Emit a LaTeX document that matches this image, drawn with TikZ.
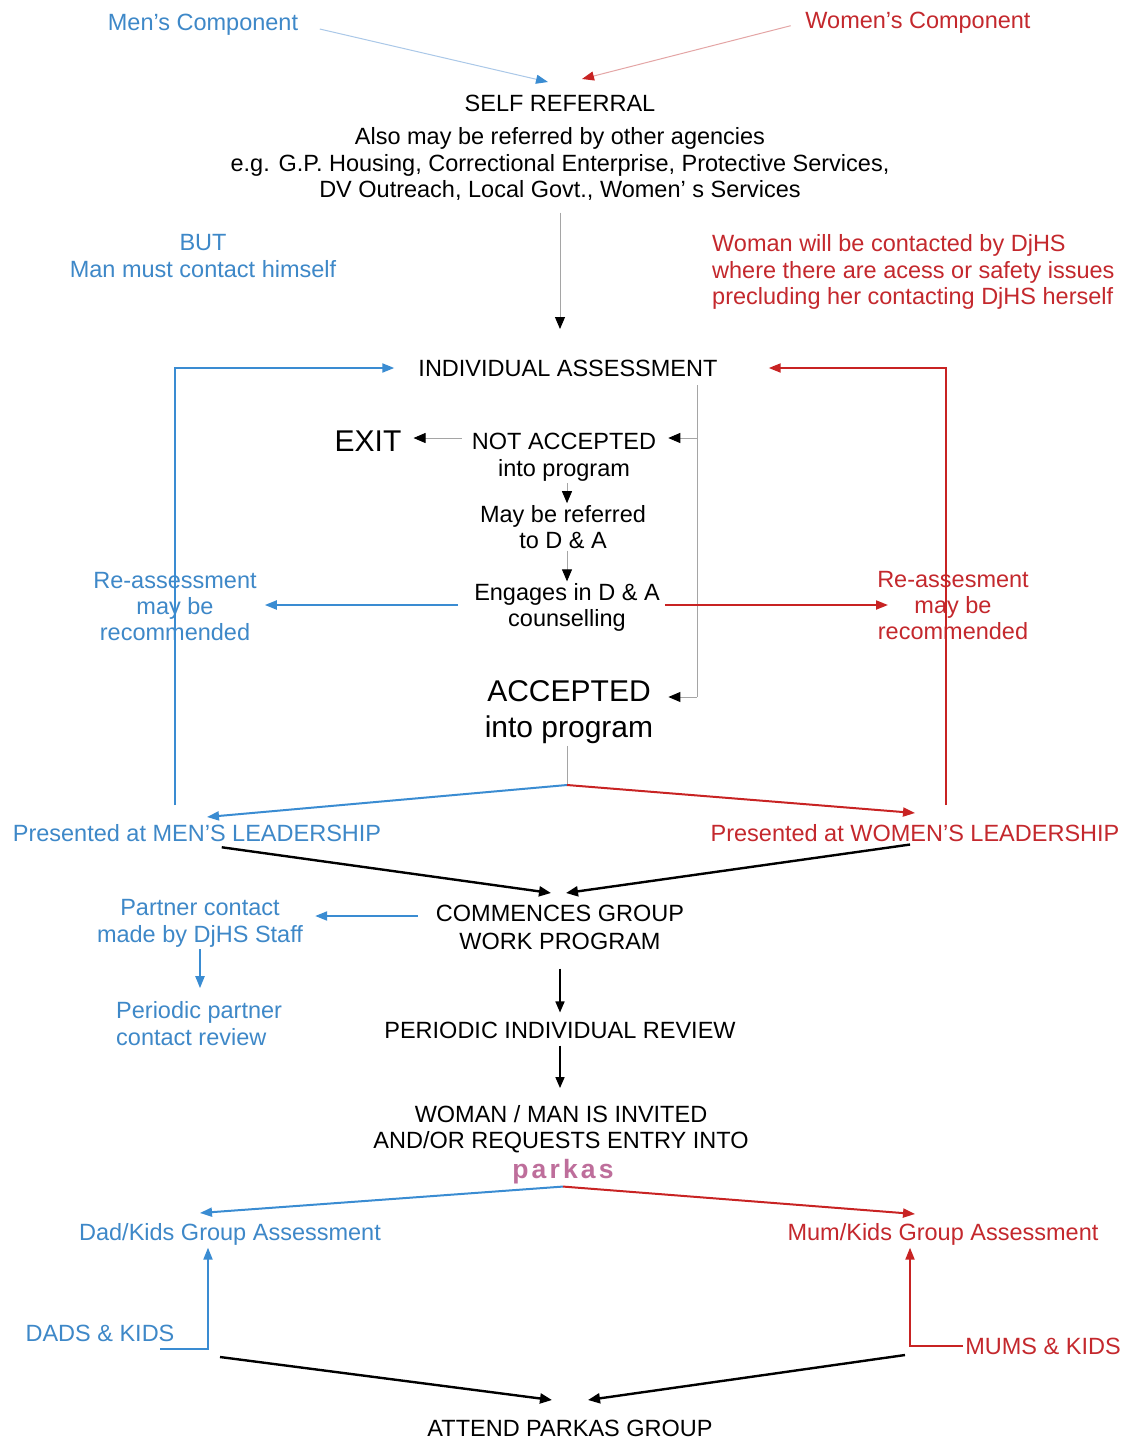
\documentclass[tikz,border=0pt]{standalone}
\usepackage{fontspec}
\setmainfont{Liberation Sans}
\usetikzlibrary{arrows.meta,calc}
\definecolor{mblue}{RGB}{58,140,210}
\definecolor{mbluet}{RGB}{62,136,200}
\definecolor{wred}{RGB}{200,35,35}
\definecolor{wredt}{RGB}{196,40,45}
\definecolor{pk}{RGB}{190,110,155}
\definecolor{lineg}{RGB}{165,165,165}
\definecolor{lblue}{RGB}{170,200,232}
\definecolor{lred}{RGB}{228,165,165}
\begin{document}
\begin{tikzpicture}[x=1pt,y=-1pt,
  every node/.style={inner sep=2pt},
  tx/.style={font=\fontsize{23.5}{26.5}\selectfont, align=center, text=black},
  lsk/.style={font=\fontsize{23.5}{#1}\selectfont},
  btx/.style={tx, text=mbluet},
  rtx/.style={tx, text=wredt},
  bigtx/.style={font=\fontsize{30}{36}\selectfont, align=center, text=black},
  bl/.style={draw=mblue, line width=2pt},
  blA/.style={bl, -{Triangle[length=12pt,width=9pt]}},
  rd/.style={draw=wred, line width=2pt},
  rdA/.style={rd, -{Triangle[length=12pt,width=9pt]}},
  gl/.style={draw=lineg, line width=0.9pt},
  glA/.style={gl, -{Triangle[length=12pt,width=10pt,color=black]}},
  bk/.style={draw=black, line width=2.4pt, -{Triangle[length=12pt,width=10pt]}},
  bkS/.style={draw=black, line width=1.6pt, -{Triangle[length=11pt,width=9pt]}}
]
\fill[white] (0,0) rectangle (1132,1440);
\useasboundingbox (0,0) rectangle (1132,1440);

% ---------- nodes ----------
\node[btx] (mens) at (203,24.5) {Men's Component};
\node[rtx] (womens) at (918,22.5) {Women's Component};
\node[tx] (self) at (560,103) {SELF REFERRAL};
\node[tx] (also) at (560,164) {Also may be referred by other agencies\\e.g. G.P. Housing, Correctional Enterprise, Protective Services,\\DV Outreach, Local Govt., Women' s Services};
\node[btx, lsk=27] (but) at (203,256.5) {BUT\\Man must contact himself};
\node[rtx, align=left, anchor=west] (woman) at (710,272) {Woman will be contacted by DjHS\\where there are acess or safety issues\\precluding her contacting DjHS herself};
\node[tx] (indiv) at (568,368) {INDIVIDUAL ASSESSMENT};
\node[bigtx] (exit) at (368,441) {EXIT};
\node[tx, lsk=27] (notacc) at (564,457) {NOT ACCEPTED\\into program};
\node[tx, lsk=26] (mayref) at (563,527) {May be referred\\to D \& A};
\node[tx, lsk=26] (engages) at (567,607.5) {Engages in D \& A\\counselling};
\node[btx, lsk=26] (reL) at (175,607) {Re-assessment\\may be\\recommended};
\node[rtx, lsk=26] (reR) at (953,606) {Re-assesment\\may be\\recommended};
\node[bigtx] (acc) at (569,712) {ACCEPTED\\into program};
\node[btx] (menlead) at (197,833) {Presented at MEN'S LEADERSHIP};
\node[rtx] (womlead) at (915,833) {Presented at WOMEN'S LEADERSHIP};
\node[tx, lsk=28] (comm) at (560,927) {COMMENCES GROUP\\WORK PROGRAM};
\node[btx, lsk=27] (partner) at (200,923) {Partner contact\\made by DjHS Staff};
\node[btx, lsk=27, align=left, anchor=west] (perp) at (114,1023.5) {Periodic partner\\contact review};
\node[tx] (review) at (560,1030) {PERIODIC INDIVIDUAL REVIEW};
\node[tx, lsk=26] (invited) at (561,1129) {WOMAN / MAN IS INVITED\\AND/OR REQUESTS ENTRY INTO};
\node[font=\fontsize{26.5}{30}\selectfont\bfseries\addfontfeature{LetterSpace=12}, text=pk] (parkas) at (563,1172) {parkas};
\node[btx] (dadkids) at (230,1234.5) {Dad/Kids Group Assessment};
\node[rtx] (mumkids) at (943,1234.5) {Mum/Kids Group Assessment};
\node[btx] (dads) at (100,1333) {DADS \& KIDS};
\node[rtx] (mums) at (1043,1346) {MUMS \& KIDS};
\node[tx] (attend) at (570,1428) {ATTEND PARKAS GROUP};

% ---------- coordinates ----------
\coordinate (sr1) at (548,82);
\coordinate (sr2) at (582,79);
\coordinate (ia) at (560,329);
\coordinate (bl1) at (175,368);
\coordinate (rl1) at (946,368);
\coordinate (g0) at (697,385);
\coordinate (g1) at (697,438);
\coordinate (g2) at (697,697);
\coordinate (cx) at (567,0);
\coordinate (ey) at (0,605);
\coordinate (rrT) at (888,605);
\coordinate (sp) at (567,785);
\coordinate (mlT) at (207,817);
\coordinate (wlT) at (915,813);
\coordinate (cmL) at (551,893);
\coordinate (cmR) at (566,893);
\coordinate (py) at (0,916);
\coordinate (dkT) at (200,1213);
\coordinate (mkT) at (915,1214);
\coordinate (dk0) at (160,1349);
\coordinate (dk1) at (208,1349);
\coordinate (mk1) at (910,1346);
\coordinate (b1) at (220,1357);
\coordinate (b2) at (905,1355);
\coordinate (atL) at (552,1400);
\coordinate (atR) at (588,1400);

% ---------- connectors ----------
\draw[draw=lblue, line width=1pt, -{Triangle[length=12pt,width=9pt,color=mblue]}, shorten <=20pt] (mens.east) -- (sr1);
\draw[draw=lred, line width=1pt, -{Triangle[length=12pt,width=9pt,color=wred]}, shorten <=13pt] (womens.west) -- (sr2);
\draw[glA, shorten <=10pt] (also.south -| ia) -- (ia);

\draw[blA, shorten <=17pt, shorten >=22pt] (menlead.north -| bl1) -- (bl1) -- (indiv.west);
\draw[rdA, shorten <=17pt, shorten >=49pt] (womlead.north -| rl1) -- (rl1) -- (indiv.east);

\draw[gl] (g0) -- (g2);
\draw[glA, shorten >=10pt] (g1) -- (notacc.east |- g1);
\draw[glA, shorten >=13pt] (g2) -- (acc.east |- g2);
\draw[glA, shorten <=8pt, shorten >=10pt] (notacc.west |- g1) -- (exit.east |- g1);
\draw[glA] (notacc.south -| cx) -- (mayref.north -| cx);
\draw[glA] (mayref.south -| cx) -- (engages.north -| cx);

\draw[blA, shorten <=14pt, shorten >=6pt] (engages.west |- ey) -- (reL.east |- ey);
\draw[rdA, shorten <=3pt] (engages.east |- ey) -- (rrT);

\draw[gl] (acc.south -| sp) -- (sp);
\draw[blA] (sp) -- (mlT);
\draw[rdA] (sp) -- (wlT);

\draw[bk, shorten <=25pt] (menlead.south) -- (cmL);
\draw[bk, shorten <=5pt] (womlead.south) -- (cmR);

\draw[blA, shorten <=16pt, shorten >=10pt] (comm.west |- py) -- (partner.east |- py);
\draw[blA, shorten >=11pt] (partner.south) -- (perp.north -| partner.south);

\draw[bkS, shorten <=17pt, shorten >=7pt] (comm.south) -- (review.north);
\draw[bkS, shorten <=5pt, shorten >=15pt] (review.south) -- (invited.north -| review.south);

\draw[blA] (parkas.south) -- (dkT);
\draw[rdA] (parkas.south) -- (mkT);

\draw[blA] (dk0) -- (dk1) -- (dadkids.south -| dk1);
\draw[rdA] (mums.west) -- (mk1) -- (mumkids.south -| mk1);

\draw[bk] (b1) -- (atL);
\draw[bk] (b2) -- (atR);
\end{tikzpicture}
\end{document}
